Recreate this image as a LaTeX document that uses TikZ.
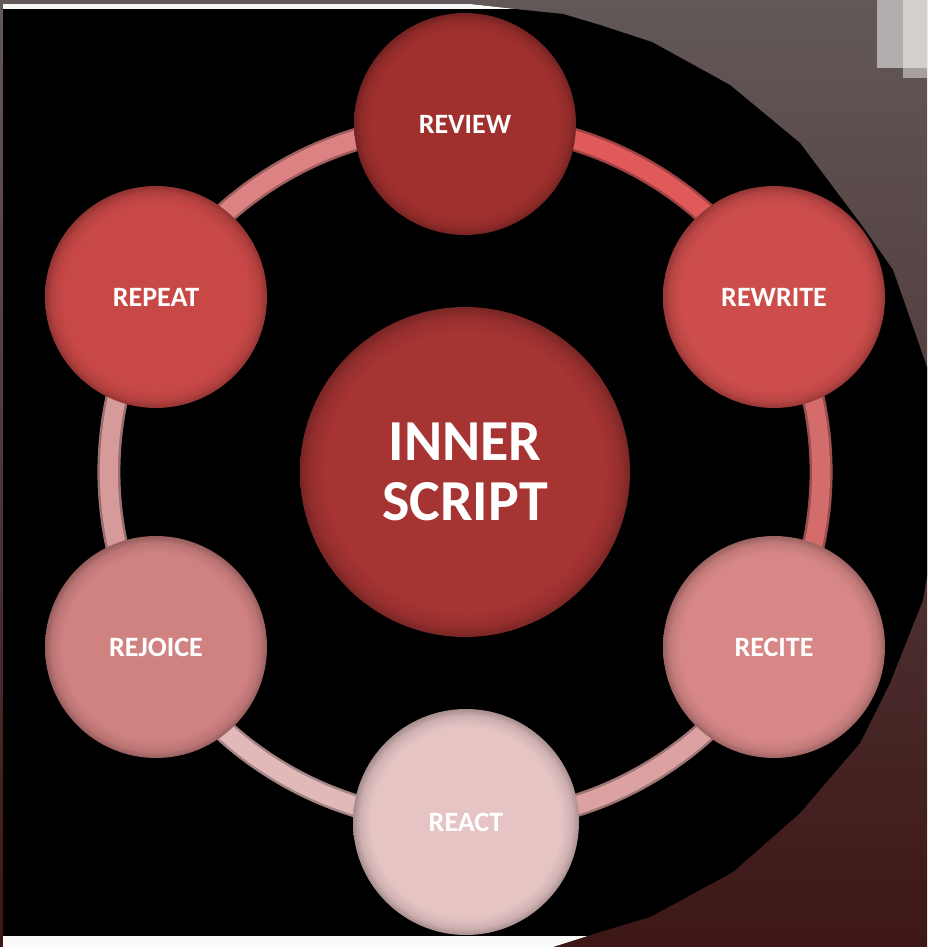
\documentclass[tikz,border=0pt]{standalone}
\usepackage{fontspec}
\setmainfont{Carlito}

\pgfdeclarelayer{backdrop}
\pgfdeclarelayer{ring}
\pgfsetlayers{backdrop,ring,main}

% node fills
\definecolor{cReview}{HTML}{A0302E}
\definecolor{cRewrite}{HTML}{CD4D4B}
\definecolor{cRecite}{HTML}{D78886}
\definecolor{cReact}{HTML}{E6C4C4}
\definecolor{cRejoice}{HTML}{D08281}
\definecolor{cRepeat}{HTML}{C84846}
\definecolor{cCenter}{HTML}{A63433}
% ring segment colours
\definecolor{rA}{HTML}{E05A5A}
\definecolor{rB}{HTML}{D46C6C}
\definecolor{rC}{HTML}{DCA2A2}
\definecolor{rD}{HTML}{E2B9B9}
\definecolor{rE}{HTML}{D69A9A}
\definecolor{rF}{HTML}{DC8282}
% backdrop
\definecolor{bgTop}{HTML}{625858}
\definecolor{bgMid}{HTML}{503838}
\definecolor{bgBot}{HTML}{3E1616}

\colorlet{btn}{red}
\pgfdeclareradialshading[btn]{buttonshade}{\pgfpoint{0bp}{0bp}}{%
  color(0bp)=(btn); color(21bp)=(btn); color(23.5bp)=(btn!90!black);
  color(25bp)=(btn!72!black); color(50bp)=(btn!72!black)}

\tikzset{
  bubble/.style={circle, minimum size=222pt, inner sep=0pt,
    /utils/exec={\colorlet{btn}{#1}}, shading=buttonshade,
    text=white, font=\fontsize{28}{30}\selectfont\bfseries},
  hub/.style={bubble=#1, minimum size=330pt, align=center,
    font=\fontsize{58}{60}\selectfont\bfseries},
  ringseg/.style={draw=#1!72!black, double=#1, double distance=18pt,
    line width=2.5pt, bend left=30, looseness=0.92},
}

\begin{document}
\begin{tikzpicture}[x=1pt, y=-1pt]
  \useasboundingbox (0,0) rectangle (927,947);

  % cycle stages
  \node[hub=cCenter] (inner) at (465,472) {INNER\\SCRIPT};
  \node[bubble=cReview]  (review)  at (465,124) {REVIEW};
  \node[bubble=cRewrite] (rewrite) at (774,297) {REWRITE};
  \node[bubble=cRecite]  (recite)  at (774,647) {RECITE};
  \node[bubble=cReact, minimum size=226pt] (react) at (466,822) {REACT};
  \node[bubble=cRejoice] (rejoice) at (156,647) {REJOICE};
  \node[bubble=cRepeat]  (repeat)  at (156,297) {REPEAT};

  % ring linking the stages
  \begin{pgfonlayer}{ring}
    \draw[ringseg=rA] (review.center)  to (rewrite.center);
    \draw[ringseg=rB] (rewrite.center) to (recite.center);
    \draw[ringseg=rC] (recite.center)  to (react.center);
    \draw[ringseg=rD] (react.center)   to (rejoice.center);
    \draw[ringseg=rE] (rejoice.center) to (repeat.center);
    \draw[ringseg=rF] (repeat.center)  to (review.center);
  \end{pgfonlayer}

  \begin{pgfonlayer}{backdrop}
    \clip (0,0) rectangle (927,947);
    % slide background
    \shade[top color=bgTop, middle color=bgMid, bottom color=bgBot]
      (0,0) rectangle (927,947);
    % small boxes in the upper right corner
    \fill[fill={rgb,255:red,179;green,174;blue,174}] (877,0) rectangle (903,68);
    \fill[fill={rgb,255:red,211;green,208;blue,204}] (903,0) rectangle (927,68);
    \fill[fill={rgb,255:red,167;green,161;blue,157}] (903,68) rectangle (927,78);
    % black picture cut by a faceted round edge
    \begin{scope}
      \clip (3,4) -- (470,4) -- (515,9) -- (563,14) -- (600,25) -- (652,42)
        -- (730,85) -- (800,143) -- (863,227) -- (893,270) -- (927,367)
        -- (945,470) -- (923,600) -- (890,683) -- (860,743) -- (800,813)
        -- (733,872) -- (650,917) -- (600,932) -- (553,947) -- (3,947) -- cycle;
      \fill[black] (3,4) rectangle (950,947);
      \fill[white!97!black] (3,4) rectangle (950,9.3);
      \fill[white!98!black] (3,935.7) rectangle (950,947);
    \end{scope}
  \end{pgfonlayer}
\end{tikzpicture}
\end{document}
